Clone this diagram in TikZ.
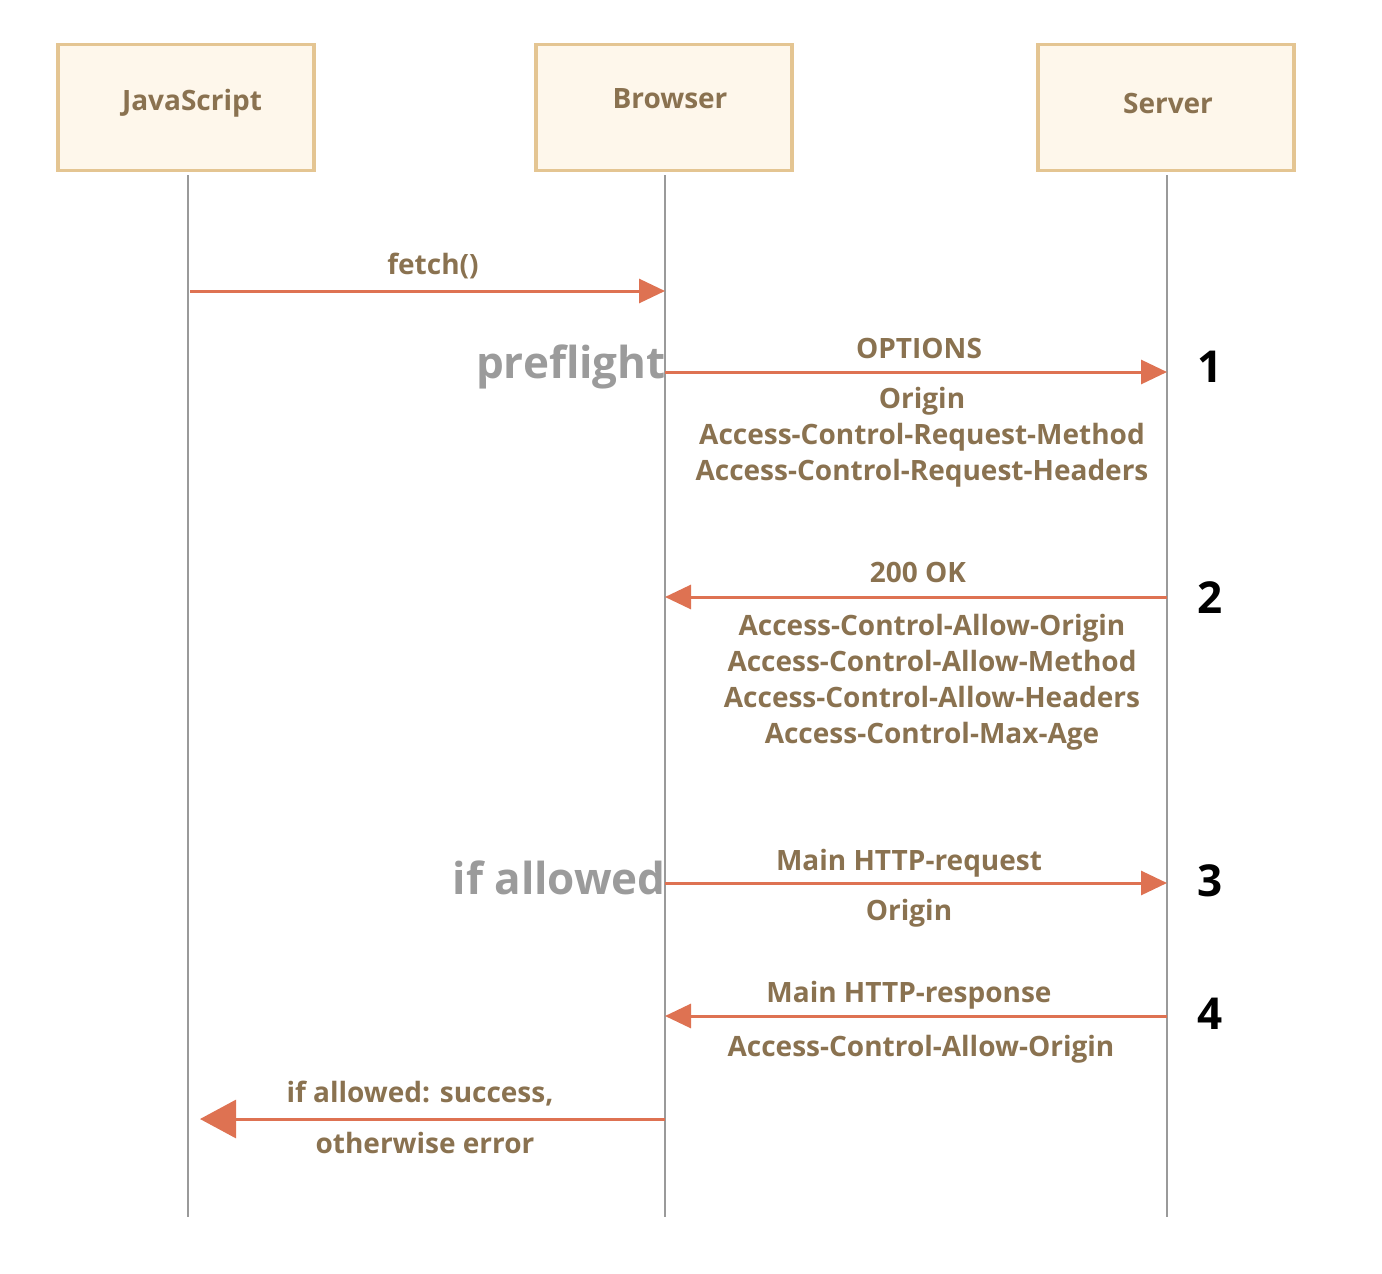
\documentclass[tikz,border=0pt]{standalone}
\usepackage{fontspec}
\setmainfont{Open Sans}
\usetikzlibrary{arrows.meta}
\definecolor{boxfill}{HTML}{FEF7EB}
\definecolor{boxline}{HTML}{E4C592}
\definecolor{txt}{HTML}{8A7250}
\definecolor{arr}{HTML}{DE7252}
\definecolor{life}{HTML}{9A9A9A}
\definecolor{note}{HTML}{9B9B9B}
\begin{document}
\begin{tikzpicture}[x=1pt,y=-1pt,
  actor/.style={draw=boxline,fill=boxfill,line width=3.5pt,minimum width=256pt,minimum height=126pt,inner sep=0pt},
  actortext/.style={font=\fontsize{28}{32}\selectfont\bfseries,text=txt,inner sep=0pt},
  lifeline/.style={draw=life,line width=1.8pt},
  msg/.style={draw=arr,line width=3pt,-{Triangle[length=26pt,width=24pt]}},
  bigmsg/.style={draw=arr,line width=3pt,-{Triangle[length=36pt,width=38pt]}},
  lbl/.style={font=\fontsize{28}{36}\selectfont\bfseries,text=txt,align=center,inner sep=0pt},
  phase/.style={font=\fontsize{44}{48}\selectfont\bfseries,text=note,inner sep=0pt,anchor=east},
  stepnum/.style={font=\fontsize{44}{48}\selectfont\bfseries,text=black,inner sep=0pt}]
\useasboundingbox (0,0) rectangle (1382,1274);

% actors
\node[actor] (js) at (186,107.5) {};
\node[actor] (br) at (664,107.5) {};
\node[actor] (sv) at (1166,107.5) {};
\node[actortext] (jst) at (192,103) {JavaScript};
\node[actortext] (brt) at (670,99) {Browser};
\node[actortext] (svt) at (1168,103) {Server};

% lifelines
\coordinate (jsTop) at (188,175);   \coordinate (jsBot) at (188,1217);
\coordinate (brTop) at (665,175);   \coordinate (brBot) at (665,1217);
\coordinate (svTop) at (1167,175);  \coordinate (svBot) at (1167,1217);
\draw[lifeline] (jsTop) -- (jsBot);
\draw[lifeline] (brTop) -- (brBot);
\draw[lifeline] (svTop) -- (svBot);

% fetch()
\coordinate (f1) at (190,291); \coordinate (f2) at (665,291);
\draw[msg] (f1) -- (f2);
\node[lbl] (fl) at (433,266) {fetch()};

% preflight request
\coordinate (o1) at (665,372); \coordinate (o2) at (1167,372);
\draw[msg] (o1) -- (o2);
\node[lbl] (ol) at (919,348) {OPTIONS};
\node[lbl,anchor=north] (oh) at (922,387) {Origin\\Access-Control-Request-Method\\Access-Control-Request-Headers};
\node[phase] (pf) at (666,367) {preflight};
\node[stepnum] (n1) at (1210,367) {1};

% preflight response
\coordinate (r1) at (1167,597); \coordinate (r2) at (665,597);
\draw[msg] (r1) -- (r2);
\node[lbl] (rl) at (918,572) {200 OK};
\node[lbl,anchor=north] (rh) at (932,614) {Access-Control-Allow-Origin\\Access-Control-Allow-Method\\Access-Control-Allow-Headers\\Access-Control-Max-Age};
\node[stepnum] (n2) at (1210,598) {2};

% main request
\coordinate (m1) at (665,883); \coordinate (m2) at (1167,883);
\draw[msg] (m1) -- (m2);
\node[lbl] (ml) at (909,863) {Main HTTP-request};
\node[lbl] (mh) at (909,913) {Origin};
\node[phase] (ia) at (666,878) {if allowed};
\node[stepnum] (n3) at (1210,881) {3};

% main response
\coordinate (s1) at (1167,1016); \coordinate (s2) at (665,1016);
\draw[msg] (s1) -- (s2);
\node[lbl] (sl) at (909,995) {Main HTTP-response};
\node[lbl] (sh) at (921,1049) {Access-Control-Allow-Origin};
\node[stepnum] (n4) at (1210,1014) {4};

% result to script
\coordinate (e1) at (665,1119); \coordinate (e2) at (200,1119);
\draw[bigmsg] (e1) -- (e2);
\node[lbl] (el1) at (420,1094) {if allowed: success,};
\node[lbl] (el2) at (425,1143) {otherwise error};
\end{tikzpicture}
\end{document}
